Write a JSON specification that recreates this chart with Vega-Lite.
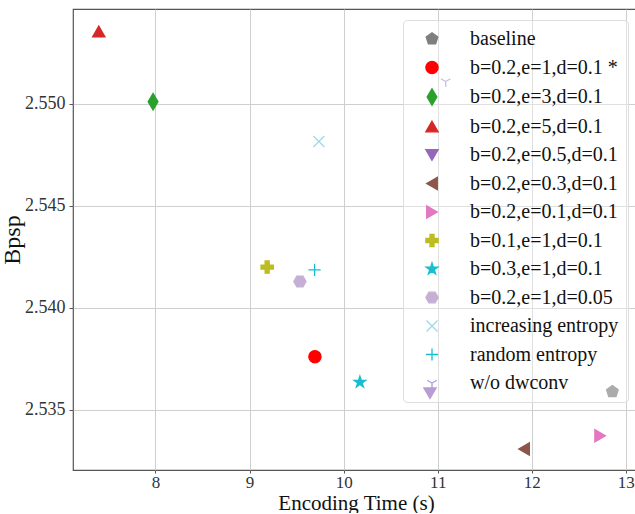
{
  "$schema": "https://vega.github.io/schema/vega-lite/v6.json",
  "width": 566,
  "height": 461,
  "padding": {"left": 0, "top": 9, "right": 0, "bottom": 0},
  "background": "white",
  "data": {
    "values": [
      {"label": "baseline", "time": 12.857, "bpsp": 2.5359},
      {"label": "b=0.2,e=1,d=0.1 *", "time": 9.695, "bpsp": 2.53761},
      {"label": "b=0.2,e=3,d=0.1", "time": 7.974, "bpsp": 2.5501},
      {"label": "b=0.2,e=5,d=0.1", "time": 7.397, "bpsp": 2.55354},
      {"label": "b=0.2,e=0.5,d=0.1", "time": 10.918, "bpsp": 2.53582},
      {"label": "b=0.2,e=0.3,d=0.1", "time": 11.918, "bpsp": 2.53309},
      {"label": "b=0.2,e=0.1,d=0.1", "time": 12.727, "bpsp": 2.53374},
      {"label": "b=0.1,e=1,d=0.1", "time": 9.187, "bpsp": 2.5420},
      {"label": "b=0.3,e=1,d=0.1", "time": 10.173, "bpsp": 2.53636},
      {"label": "b=0.2,e=1,d=0.05", "time": 9.535, "bpsp": 2.54129},
      {"label": "increasing entropy", "time": 9.737, "bpsp": 2.54815},
      {"label": "random entropy", "time": 9.691, "bpsp": 2.54186},
      {"label": "w/o dwconv", "time": 11.085, "bpsp": 2.55109}
    ]
  },
  "mark": {"type": "point", "filled": true, "opacity": 1, "size": 150, "strokeWidth": 1.3},
  "encoding": {
    "x": {
      "field": "time", "type": "quantitative", "title": "Encoding Time (s)",
      "scale": {"domain": [7.123, 13.14], "nice": false, "zero": false},
      "axis": {"values": [8, 9, 10, 11, 12, 13], "format": "d"}
    },
    "y": {
      "field": "bpsp", "type": "quantitative", "title": "Bpsp",
      "scale": {"domain": [2.53206, 2.55464], "nice": false, "zero": false},
      "axis": {"values": [2.535, 2.54, 2.545, 2.55], "format": ".3f"}
    },
    "shape": {
      "field": "label", "type": "nominal", "title": null,
      "scale": {
        "domain": ["baseline", "b=0.2,e=1,d=0.1 *", "b=0.2,e=3,d=0.1", "b=0.2,e=5,d=0.1", "b=0.2,e=0.5,d=0.1", "b=0.2,e=0.3,d=0.1", "b=0.2,e=0.1,d=0.1", "b=0.1,e=1,d=0.1", "b=0.3,e=1,d=0.1", "b=0.2,e=1,d=0.05", "increasing entropy", "random entropy", "w/o dwconv"],
        "range": [
          "M0,-1L0.951,-0.309L0.588,0.809L-0.588,0.809L-0.951,-0.309Z",
          "circle",
          "M0,-1.35L0.8,0L0,1.35L-0.8,0Z",
          "triangle-up",
          "triangle-down",
          "triangle-left",
          "triangle-right",
          "M-0.33,-1L0.33,-1L0.33,-0.33L1,-0.33L1,0.33L0.33,0.33L0.33,1L-0.33,1L-0.33,0.33L-1,0.33L-1,-0.33L-0.33,-0.33Z",
          "M0,-1L0.225,-0.309L0.951,-0.309L0.363,0.118L0.588,0.809L0,0.382L-0.588,0.809L-0.363,0.118L-0.951,-0.309L-0.225,-0.309Z",
          "M-1,0L-0.5,-0.866L0.5,-0.866L1,0L0.5,0.866L-0.5,0.866Z",
          "M-0.9,-0.9L0.9,0.9M-0.9,0.9L0.9,-0.9",
          "M-1,0L1,0M0,-1L0,1",
          "M0,0L0,0.9M0,0L0.78,-0.45M0,0L-0.78,-0.45"
        ]
      }
    },
    "fill": {
      "field": "label", "type": "nominal", "title": null,
      "scale": {
        "domain": ["baseline", "b=0.2,e=1,d=0.1 *", "b=0.2,e=3,d=0.1", "b=0.2,e=5,d=0.1", "b=0.2,e=0.5,d=0.1", "b=0.2,e=0.3,d=0.1", "b=0.2,e=0.1,d=0.1", "b=0.1,e=1,d=0.1", "b=0.3,e=1,d=0.1", "b=0.2,e=1,d=0.05", "increasing entropy", "random entropy", "w/o dwconv"],
        "range": ["#7f7f7f", "#ff0000", "#2ca02c", "#d62728", "#9467bd", "#8c564b", "#e377c2", "#bcbd22", "#17becf", "#c5b0d5", "#9edae5", "#17becf", "#b09ad6"]
      }
    },
    "stroke": {
      "field": "label", "type": "nominal", "title": null,
      "scale": {
        "domain": ["baseline", "b=0.2,e=1,d=0.1 *", "b=0.2,e=3,d=0.1", "b=0.2,e=5,d=0.1", "b=0.2,e=0.5,d=0.1", "b=0.2,e=0.3,d=0.1", "b=0.2,e=0.1,d=0.1", "b=0.1,e=1,d=0.1", "b=0.3,e=1,d=0.1", "b=0.2,e=1,d=0.05", "increasing entropy", "random entropy", "w/o dwconv"],
        "range": ["#7f7f7f", "#ff0000", "#2ca02c", "#d62728", "#9467bd", "#8c564b", "#e377c2", "#bcbd22", "#17becf", "#c5b0d5", "#9edae5", "#17becf", "#b09ad6"]
      }
    }
  },
  "config": {
    "font": "Liberation Serif",
    "view": {"stroke": "#555555", "strokeWidth": 1.2},
    "axis": {
      "domain": false,
      "grid": true,
      "gridColor": "#cfcfcf",
      "gridWidth": 1,
      "tickColor": "#555555",
      "tickSize": 4,
      "labelFont": "Liberation Serif",
      "labelFontSize": 18,
      "labelColor": "#333333",
      "labelPadding": 4,
      "titleFont": "Liberation Serif",
      "titleFontWeight": "normal",
      "titleColor": "#111111"
    },
    "axisX": {"titleFontSize": 21, "titlePadding": 2, "labelPadding": 1, "tickSize": 3, "labelFontSize": 17},
    "axisY": {"titleFontSize": 24, "titlePadding": 0},
    "legend": {
      "orient": "top-right",
      "offset": 11,
      "padding": 9,
      "strokeColor": "#dddddd",
      "fillColor": "rgba(255,255,255,0.35)",
      "cornerRadius": 4,
      "labelFont": "Liberation Serif",
      "labelFontSize": 20,
      "labelColor": "#111111",
      "labelOffset": 28,
      "symbolOffset": 10,
      "symbolSize": 150,
      "symbolStrokeWidth": 1.3,
      "rowPadding": 8.5,
      "labelLimit": 300
    }
  }
}
